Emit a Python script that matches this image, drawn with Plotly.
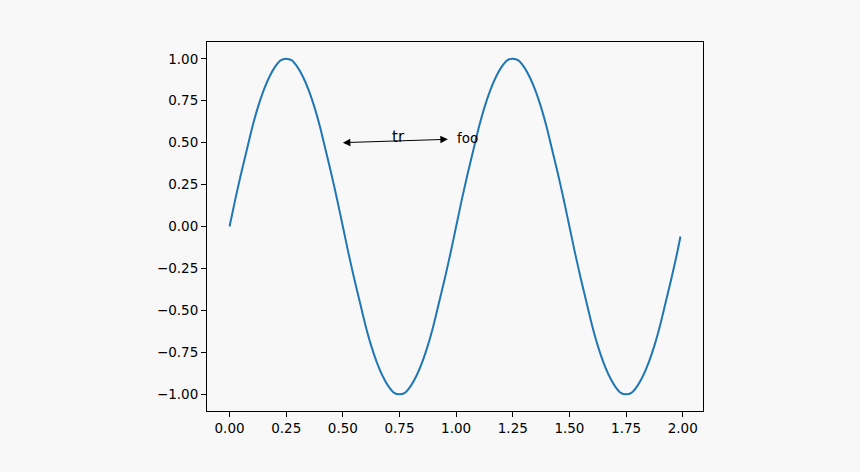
import plotly.graph_objects as go

t_vals = [round(0.025 * i, 3) for i in range(80)] + [1.99]
s_vals = [0.00, 0.16, 0.31, 0.45, 0.59, 0.71, 0.81, 0.89, 0.95, 0.99,
          1.00, 0.99, 0.95, 0.89, 0.81, 0.71, 0.59, 0.45, 0.31, 0.16,
          0.00, -0.16, -0.31, -0.45, -0.59, -0.71, -0.81, -0.89, -0.95, -0.99,
          -1.00, -0.99, -0.95, -0.89, -0.81, -0.71, -0.59, -0.45, -0.31, -0.16,
          0.00, 0.16, 0.31, 0.45, 0.59, 0.71, 0.81, 0.89, 0.95, 0.99,
          1.00, 0.99, 0.95, 0.89, 0.81, 0.71, 0.59, 0.45, 0.31, 0.16,
          0.00, -0.16, -0.31, -0.45, -0.59, -0.71, -0.81, -0.89, -0.95, -0.99,
          -1.00, -0.99, -0.95, -0.89, -0.81, -0.71, -0.59, -0.45, -0.31, -0.16,
          -0.06]

x_ticks = [0.0, 0.25, 0.5, 0.75, 1.0, 1.25, 1.5, 1.75, 2.0]
y_ticks = [-1.0, -0.75, -0.5, -0.25, 0.0, 0.25, 0.5, 0.75, 1.0]

bg = "#f8f8f8"
font = dict(family="DejaVu Sans", size=13.5, color="black")

fig = go.Figure()
fig.add_trace(go.Scatter(x=t_vals, y=s_vals, mode="lines",
                         line=dict(color="#1f77b4", width=2, shape="spline", smoothing=0.5),
                         showlegend=False, hoverinfo="skip"))

# double headed arrow
fig.add_annotation(x=0.5, y=0.5, ax=0.97, ay=0.52, xref="x", yref="y",
                   axref="x", ayref="y", text="", showarrow=True,
                   arrowside="end+start", arrowhead=2, arrowsize=1.5,
                   arrowwidth=1, arrowcolor="black", standoff=0, startstandoff=0)
fig.add_annotation(x=0.745, y=0.535, xref="x", yref="y", text="tr", showarrow=False,
                   font=dict(family="DejaVu Sans", size=15, color="black"))
fig.add_annotation(x=0.995, y=0.525, xref="x", yref="y", text="foo", showarrow=False,
                   xanchor="left", font=font)

axis_common = dict(showgrid=False, zeroline=False, showline=True, linecolor="black",
                   linewidth=1, mirror=True, ticks="outside", ticklen=5, tickwidth=1,
                   tickcolor="black", tickfont=font, tickformat=".2f")
fig.update_xaxes(range=[-0.0995, 2.0895], tickvals=x_ticks, **axis_common)
fig.update_yaxes(range=[-1.1, 1.1], tickvals=y_ticks, **axis_common)

fig.update_layout(width=860, height=472, paper_bgcolor=bg, plot_bgcolor=bg,
                  margin=dict(l=207, r=157, t=42, b=61), font=font)

# drop the default page margin so the figure sits at the window corner
fig.write_html("out.html", config={"displayModeBar": False},
               post_script="document.body.style.margin='0';document.body.style.background='#f8f8f8';")
